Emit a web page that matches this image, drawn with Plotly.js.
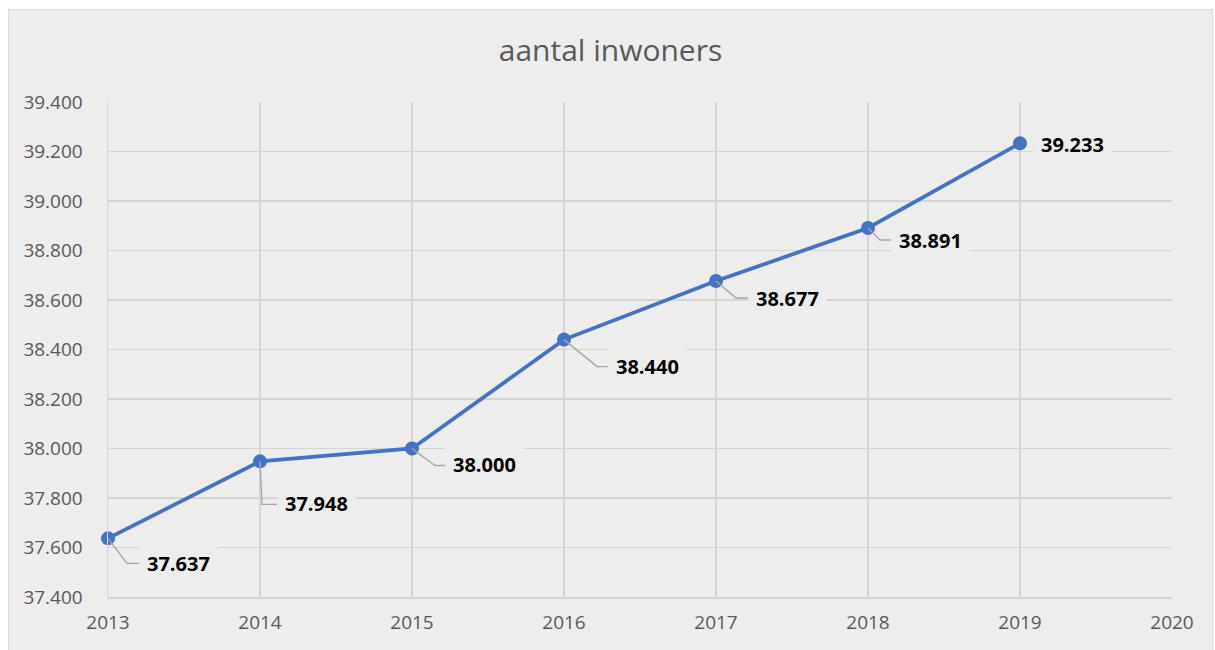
<!DOCTYPE html>
<html>
<head>
<meta charset="utf-8">
<script src="https://cdn.plot.ly/plotly-3.0.1.min.js"></script>
<style>
  html, body { margin: 0; padding: 0; background: #ffffff; }
  #chart { position: absolute; left: 8px; top: 9px; width: 1203px; height: 641px;
           border: 1px solid #d9d9d9; border-bottom: none; background: #ededed; }
</style>
</head>
<body>
<div id="chart"></div>
<script>
// ---- data ----
const title = "aantal inwoners";
const years = [2013, 2014, 2015, 2016, 2017, 2018, 2019];
const inhabitants = [37637, 37948, 38000, 38440, 38677, 38891, 39233];
const yTickValues = [37400, 37600, 37800, 38000, 38200, 38400, 38600, 38800, 39000, 39200, 39400];
const xTickValues = [2013, 2014, 2015, 2016, 2017, 2018, 2019, 2020];

// ---- label placement (pixel offsets: elbow dx, dy(down), text left dx, text dy) ----
const labelLayout = [
  {ex: 19, ey: 25, tx: 39, ty: 25, leader: true},
  {ex: 2,  ey: 43, tx: 25, ty: 42, leader: true},
  {ex: 23, ey: 17, tx: 41, ty: 16, leader: true},
  {ex: 33, ey: 27, tx: 52, ty: 27, leader: true},
  {ex: 20, ey: 17, tx: 40, ty: 18, leader: true},
  {ex: 12, ey: 12, tx: 31, ty: 13, leader: true},
  {ex: 0,  ey: 0,  tx: 21, ty: 1,  leader: false}
];

function fmt(v) {
  return String(v).replace(/\B(?=(\d{3})+(?!\d))/g, ".");
}

const textColor = "#595959";
const gridColor = "#d5d5d5";
const lineColor = "#4472c4";
const bg = "#ededed";

const trace = {
  x: years, y: inhabitants, type: "scatter", mode: "lines+markers",
  line: {color: lineColor, width: 3.8},
  marker: {color: lineColor, size: 14},
  hoverinfo: "skip", cliponaxis: false
};

const shapes = [];
const annotations = [];
years.forEach((yr, i) => {
  const L = labelLayout[i];
  if (L.leader) {
    shapes.push({
      type: "path", xref: "x", yref: "y",
      xsizemode: "pixel", ysizemode: "pixel",
      xanchor: yr, yanchor: inhabitants[i],
      path: "M0,0 L" + L.ex + "," + (-L.ey) + " L" + (L.tx - 8) + "," + (-L.ey),
      line: {color: "#a6a6a6", width: 1.4},
      layer: "above"
    });
  }
  annotations.push({
    x: yr, y: inhabitants[i], xref: "x", yref: "y",
    text: fmt(inhabitants[i]), showarrow: false,
    xanchor: "left", yanchor: "middle",
    xshift: L.tx - 8, yshift: -L.ty,
    bgcolor: bg, borderpad: 7,
    font: {family: "Open Sans, sans-serif", size: 20, color: "#000000", weight: "bold"}
  });
});

const layout = {
  width: 1203, height: 640,
  paper_bgcolor: bg, plot_bgcolor: bg,
  margin: {l: 99, r: 40, t: 92, b: 53},
  separators: ",.",
  showlegend: false,
  title: {
    text: title, x: 0.5, xanchor: "center", y: 0.9375, yanchor: "middle",
    yref: "container",
    font: {family: "Open Sans, sans-serif", size: 30, color: textColor}
  },
  xaxis: {
    range: [2013, 2020], tickvals: xTickValues, ticktext: xTickValues.map(String),
    showgrid: true, gridcolor: gridColor, gridwidth: 1.5,
    showline: true, linecolor: gridColor, linewidth: 1.5, mirror: false,
    zeroline: false, ticks: "outside", ticklen: 8, tickcolor: "rgba(0,0,0,0)",
    tickfont: {family: "Open Sans, sans-serif", size: 19, color: textColor}
  },
  yaxis: {
    range: [37400, 39400], tickvals: yTickValues, ticktext: yTickValues.map(fmt),
    showgrid: true, gridcolor: gridColor, gridwidth: 1.5,
    showline: true, linecolor: gridColor, linewidth: 1.5,
    zeroline: false, ticks: "", ticklabelstandoff: 20,
    tickfont: {family: "Open Sans, sans-serif", size: 19, color: textColor}
  },
  shapes: shapes,
  annotations: annotations
};

Plotly.newPlot("chart", [trace], layout, {displayModeBar: false, staticPlot: true});
</script>
</body>
</html>
